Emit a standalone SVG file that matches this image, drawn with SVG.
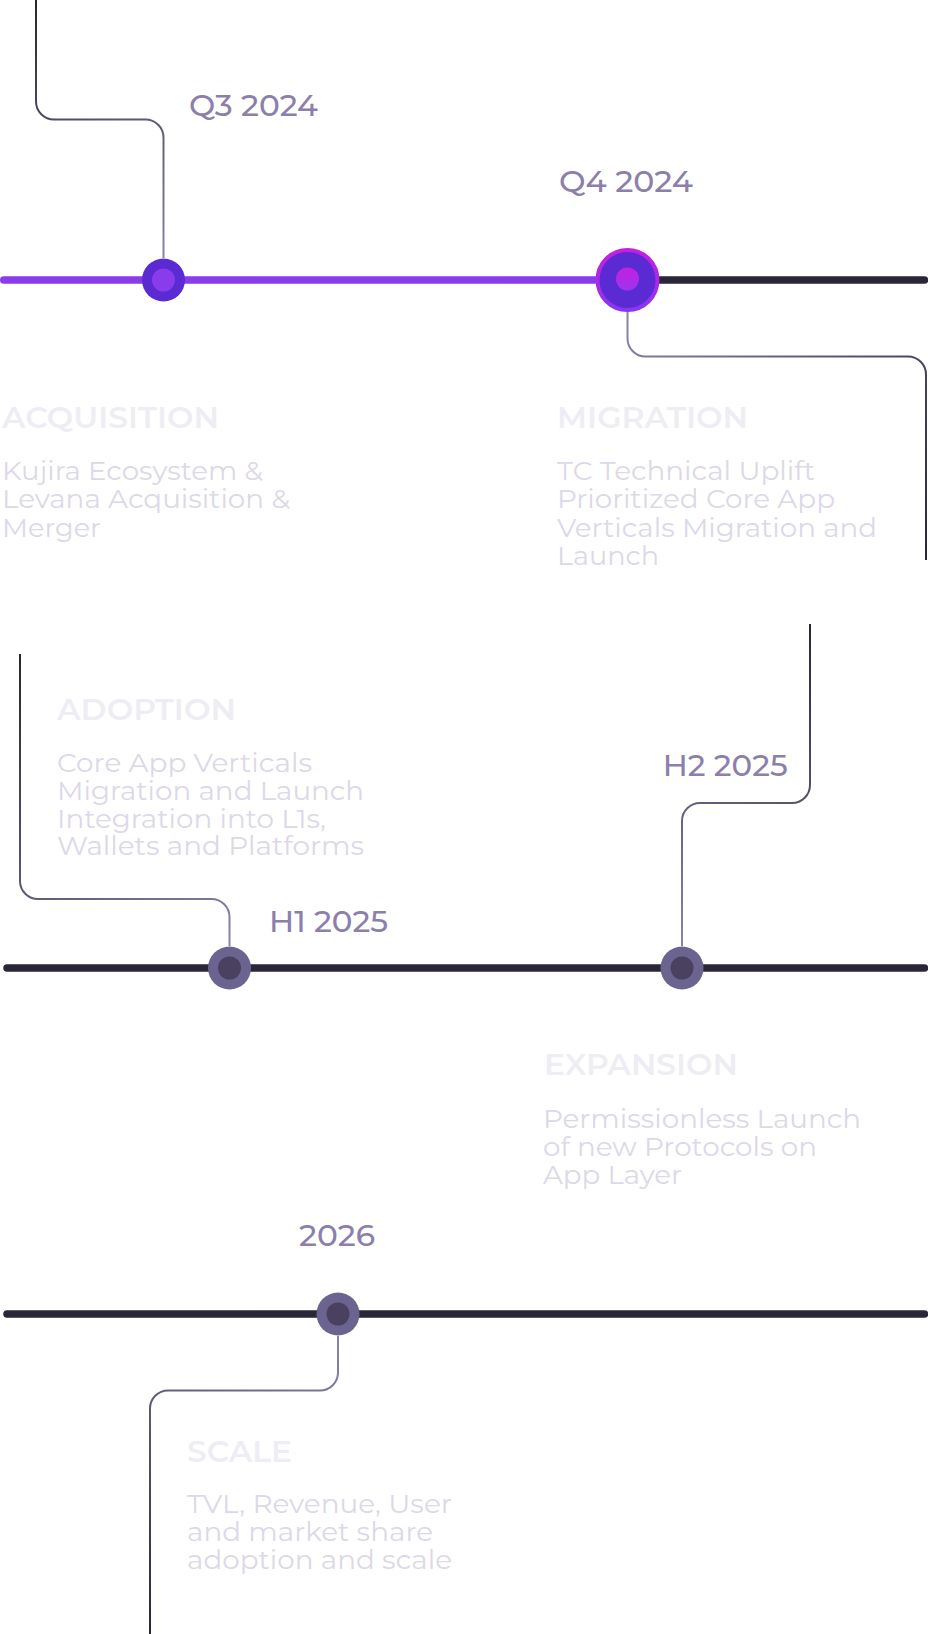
<svg xmlns="http://www.w3.org/2000/svg" width="928" height="1634" viewBox="0 0 928 1634">
<style>
.date{font-family:Montserrat,Inter,"Liberation Sans",sans-serif;font-size:30px;font-weight:500;fill:#8B80AB}
.title{font-family:Montserrat,Inter,"Liberation Sans",sans-serif;font-size:30px;font-weight:600;fill:#EFEDF4}
.body{font-family:Montserrat,Inter,"Liberation Sans",sans-serif;font-size:26px;font-weight:400;fill:#DCD8E8}
.conn{fill:none;stroke-width:2}
.tl{stroke-width:7.5;stroke-linecap:round;fill:none}
.dk{stroke:#2A2537}
.outer{fill:#6B6490}
.inner{fill:#4A4060}
</style>
<defs>
<linearGradient id="g1" gradientUnits="userSpaceOnUse" x1="36" y1="0" x2="163" y2="258"><stop offset="0" stop-color="#2A2536"/><stop offset="1" stop-color="#8C82AC"/></linearGradient>
<linearGradient id="g2" gradientUnits="userSpaceOnUse" x1="627" y1="312" x2="926" y2="560"><stop offset="0" stop-color="#8C82AC"/><stop offset="1" stop-color="#2A2536"/></linearGradient>
<linearGradient id="g3" gradientUnits="userSpaceOnUse" x1="20" y1="654" x2="229" y2="946"><stop offset="0" stop-color="#2A2536"/><stop offset="1" stop-color="#8C82AC"/></linearGradient>
<linearGradient id="g4" gradientUnits="userSpaceOnUse" x1="810" y1="624" x2="682" y2="946"><stop offset="0" stop-color="#2A2536"/><stop offset="1" stop-color="#8C82AC"/></linearGradient>
<linearGradient id="g5" gradientUnits="userSpaceOnUse" x1="338" y1="1336" x2="150" y2="1634"><stop offset="0" stop-color="#8C82AC"/><stop offset="1" stop-color="#2A2536"/></linearGradient>
<linearGradient id="ring" x1="0" y1="0" x2="0" y2="1"><stop offset="0" stop-color="#C61FE0"/><stop offset="1" stop-color="#8A35F0"/></linearGradient>
<linearGradient id="dot" x1="0" y1="0" x2="0" y2="1"><stop offset="0" stop-color="#C61FE0"/><stop offset="1" stop-color="#9A35EE"/></linearGradient>
</defs>

<g id="connectors">
<path class="conn" stroke="url(#g1)" d="M36,0 V101.5 A18,18 0 0 0 54,119.5 H145.5 A18,18 0 0 1 163.5,137.5 V258"/>
<path class="conn" stroke="url(#g2)" d="M627.5,312 V338.5 A18,18 0 0 0 645.5,356.5 H908 A18,18 0 0 1 926,374.5 V560"/>
<path class="conn" stroke="url(#g3)" d="M20,654 V881 A18,18 0 0 0 38,899 H211.5 A18,18 0 0 1 229.5,917 V946"/>
<path class="conn" stroke="url(#g4)" d="M810,624 V785 A18,18 0 0 1 792,803 H700 A18,18 0 0 0 682,821 V946"/>
<path class="conn" stroke="url(#g5)" d="M338,1336 V1372.5 A18,18 0 0 1 320,1390.5 H168 A18,18 0 0 0 150,1408.5 V1634"/>
</g>

<g id="timelines">
<line class="tl" stroke="#8A3BEB" x1="3.75" y1="280" x2="600" y2="280"/>
<line class="tl dk" x1="640" y1="280" x2="924.5" y2="280"/>
<line class="tl dk" x1="7" y1="968" x2="924.5" y2="968"/>
<line class="tl dk" x1="7" y1="1314" x2="924.5" y2="1314"/>
</g>

<g id="q3-2024">
<circle cx="163.5" cy="280" r="21.5" fill="#5A2BD2"/>
<circle cx="163.5" cy="280" r="11.5" fill="#8A3BEB"/>
<text class="date" x="189" y="115.7" textLength="129" lengthAdjust="spacingAndGlyphs">Q3 2024</text>
</g>

<g id="acquisition">
<text class="title" x="2" y="427.7" textLength="217" lengthAdjust="spacingAndGlyphs">ACQUISITION</text>
<text class="body" x="2" y="480" textLength="261" lengthAdjust="spacingAndGlyphs">Kujira Ecosystem &amp;</text>
<text class="body" x="2" y="508" textLength="288" lengthAdjust="spacingAndGlyphs">Levana Acquisition &amp;</text>
<text class="body" x="2" y="536.5" textLength="99" lengthAdjust="spacingAndGlyphs">Merger</text>
</g>

<g id="q4-2024">
<circle cx="627.5" cy="280" r="30" fill="#5A2BD2" stroke="url(#ring)" stroke-width="4"/>
<circle cx="627.5" cy="279" r="11.5" fill="url(#dot)"/>
<text class="date" x="559" y="191.7" textLength="134" lengthAdjust="spacingAndGlyphs">Q4 2024</text>
</g>

<g id="migration">
<text class="title" x="557" y="428" textLength="191" lengthAdjust="spacingAndGlyphs">MIGRATION</text>
<text class="body" x="557" y="480" textLength="258" lengthAdjust="spacingAndGlyphs">TC Technical Uplift</text>
<text class="body" x="557" y="508.3" textLength="278" lengthAdjust="spacingAndGlyphs">Prioritized Core App</text>
<text class="body" x="557" y="536.7" textLength="320" lengthAdjust="spacingAndGlyphs">Verticals Migration and</text>
<text class="body" x="557" y="564.5" textLength="102" lengthAdjust="spacingAndGlyphs">Launch</text>
</g>

<g id="adoption">
<text class="title" x="57" y="720" textLength="179" lengthAdjust="spacingAndGlyphs">ADOPTION</text>
<text class="body" x="57" y="771.7" textLength="255" lengthAdjust="spacingAndGlyphs">Core App Verticals</text>
<text class="body" x="57" y="799.5" textLength="307" lengthAdjust="spacingAndGlyphs">Migration and Launch</text>
<text class="body" x="57" y="827.5" textLength="269" lengthAdjust="spacingAndGlyphs">Integration into L1s,</text>
<text class="body" x="57" y="855" textLength="307" lengthAdjust="spacingAndGlyphs">Wallets and Platforms</text>
</g>

<g id="h1-2025">
<circle class="outer" cx="229.5" cy="968" r="21.5"/>
<circle class="inner" cx="229.5" cy="968" r="11.5"/>
<text class="date" x="269" y="931.7" textLength="119" lengthAdjust="spacingAndGlyphs">H1 2025</text>
</g>

<g id="h2-2025">
<circle class="outer" cx="682" cy="968" r="21.5"/>
<circle class="inner" cx="682" cy="968" r="11.5"/>
<text class="date" x="662.7" y="775.7" textLength="125" lengthAdjust="spacingAndGlyphs">H2 2025</text>
</g>

<g id="expansion">
<text class="title" x="544" y="1075" textLength="194" lengthAdjust="spacingAndGlyphs">EXPANSION</text>
<text class="body" x="543" y="1128.3" textLength="318" lengthAdjust="spacingAndGlyphs">Permissionless Launch</text>
<text class="body" x="543" y="1156" textLength="274" lengthAdjust="spacingAndGlyphs">of new Protocols on</text>
<text class="body" x="543" y="1184" textLength="139" lengthAdjust="spacingAndGlyphs">App Layer</text>
</g>

<g id="y2026">
<circle class="outer" cx="338" cy="1314" r="21.5"/>
<circle class="inner" cx="338" cy="1314" r="11.5"/>
<text class="date" x="299" y="1245.7" textLength="76" lengthAdjust="spacingAndGlyphs">2026</text>
</g>

<g id="scale">
<text class="title" x="187" y="1461.7" textLength="105" lengthAdjust="spacingAndGlyphs">SCALE</text>
<text class="body" x="187" y="1513" textLength="265" lengthAdjust="spacingAndGlyphs">TVL, Revenue, User</text>
<text class="body" x="187" y="1541" textLength="246" lengthAdjust="spacingAndGlyphs">and market share</text>
<text class="body" x="187" y="1569" textLength="265" lengthAdjust="spacingAndGlyphs">adoption and scale</text>
</g>
</svg>
